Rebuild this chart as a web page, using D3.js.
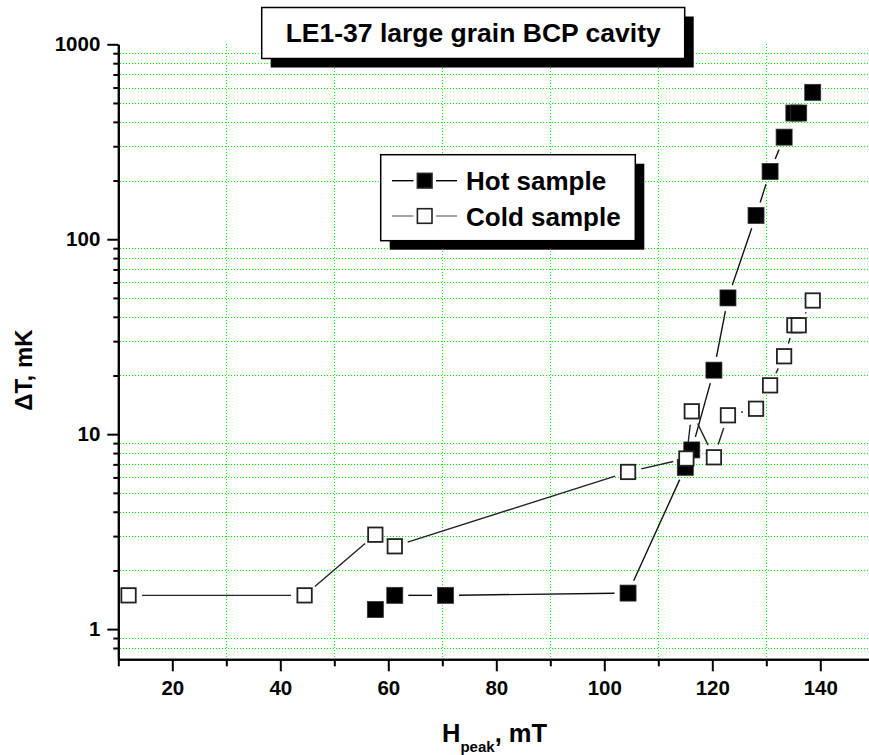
<!DOCTYPE html>
<html>
<head>
<meta charset="utf-8">
<script src="https://cdn.jsdelivr.net/npm/d3@7"></script>
<style>
  html, body { margin: 0; padding: 0; background: #fff; }
  svg { display: block; }
  text { font-family: "Liberation Sans", Arial, sans-serif; font-weight: bold; fill: #000; }
</style>
</head>
<body>
<script>
// ---- data ----
const titleText = "LE1-37 large grain BCP cavity";
const seriesNames = ["Hot sample", "Cold sample"];
const hotH  = [57.6, 61.2, 70.6, 104.4, 115.0, 116.2, 120.3, 122.9, 128.1, 130.7, 133.3, 135.1, 136.0, 138.6];
const hotDT = [1.26, 1.49, 1.49, 1.53, 6.76, 8.3, 21.3, 50.0, 132.5, 222.8, 334, 444, 444, 567];
const coldH  = [11.9, 44.5, 57.6, 61.2, 104.4, 115.2, 116.2, 120.3, 122.9, 128.1, 130.7, 133.3, 135.2, 136.0, 138.6];
const coldDT = [1.49, 1.49, 3.05, 2.66, 6.4, 7.5, 13.1, 7.61, 12.5, 13.5, 17.8, 25.1, 36.2, 36.2, 48.5];
const xMajorTicks = [20, 40, 60, 80, 100, 120, 140];
const xMinorTicks = [10, 30, 50, 70, 90, 110, 130, 150];
const yMajorTicks = [1, 10, 100, 1000];
const yMinorTicks = [0.8, 0.9, 2, 3, 4, 5, 6, 7, 8, 9, 20, 30, 40, 50, 60, 70, 80, 90, 200, 300, 400, 500, 600, 700, 800, 900];

(function () {
const W = 869, H = 755;
const svg = d3.select("body").append("svg").attr("width", W).attr("height", H);

const x = d3.scaleLinear().domain([10, 150]).range([118.3, 874.3]);
const y = d3.scaleLog().domain([0.7, 1000]).range([659.3, 44.3]);
const pLeft = x(10), pBottom = y(0.7), pTop = y(1000);

// ---- grid (minor positions, green dotted) ----
const grid = svg.append("g").attr("shape-rendering", "crispEdges");
grid.selectAll("line.h").data(yMinorTicks).join("line")
  .attr("x1", pLeft + 2).attr("x2", W).attr("y1", d => Math.round(y(d)) + 0.5).attr("y2", d => Math.round(y(d)) + 0.5)
  .attr("stroke", "#00ff00").attr("stroke-width", 1).attr("stroke-dasharray", "1,2");
grid.selectAll("line.v").data(xMinorTicks.filter(d => d > 10)).join("line")
  .attr("x1", d => Math.round(x(d)) + 0.5).attr("x2", d => Math.round(x(d)) + 0.5).attr("y1", pTop).attr("y2", pBottom - 1)
  .attr("stroke", "#00ff00").attr("stroke-width", 1).attr("stroke-dasharray", "1,2");

// ---- axes ----
svg.append("g").attr("transform", `translate(0,${pBottom})`)
  .call(d3.axisBottom(x).tickValues(xMajorTicks).tickSize(12).tickSizeOuter(0).tickPadding(9).tickFormat(d3.format("d")));
svg.append("g").attr("transform", `translate(0,${pBottom})`)
  .call(d3.axisBottom(x).tickValues(xMinorTicks).tickSize(7).tickSizeOuter(0).tickFormat(""));
svg.append("g").attr("transform", `translate(${pLeft},0)`)
  .call(d3.axisLeft(y).tickValues(yMajorTicks).tickSize(11).tickSizeOuter(0).tickPadding(7).tickFormat(d3.format("d")));
svg.append("g").attr("transform", `translate(${pLeft},0)`)
  .call(d3.axisLeft(y).tickValues(yMinorTicks).tickSize(5).tickSizeOuter(0).tickFormat(""));
svg.selectAll(".domain").attr("stroke", "#000").attr("stroke-width", 2);
svg.selectAll(".tick line").attr("stroke", "#000").attr("stroke-width", 2);
svg.selectAll(".tick text").style("font-size", "20.5px").style("font-family", "'Liberation Sans', Arial, sans-serif").style("font-weight", "bold").attr("fill", "#000");

// ---- axis titles ----
const xt = svg.append("text").attr("x", 442).attr("y", 741.5).style("font-size", "25.5px");
xt.append("tspan").text("H");
xt.append("tspan").attr("dy", 10).style("font-size", "15px").text("peak");
xt.append("tspan").attr("dy", -10).text(", mT");

svg.append("text").attr("transform", "translate(32,370) rotate(-90)").attr("text-anchor", "middle")
  .style("font-size", "24px").text("\u0394T, mK");

// ---- series ----
function pts(hx, hy) { return hx.map((v, i) => [x(v), y(hy[i])]); }
function drawLines(p, color) {
  const gap = 13.5;
  const segs = [];
  for (let i = 0; i < p.length - 1; i++) {
    const [x1, y1] = p[i], [x2, y2] = p[i + 1];
    const dx = x2 - x1, dy = y2 - y1, L = Math.hypot(dx, dy);
    if (L <= 2 * gap) continue;
    const ux = dx / L, uy = dy / L;
    segs.push([x1 + ux * gap, y1 + uy * gap, x2 - ux * gap, y2 - uy * gap]);
  }
  svg.append("g").selectAll("line").data(segs).join("line")
    .attr("x1", d => d[0]).attr("y1", d => d[1]).attr("x2", d => d[2]).attr("y2", d => d[3])
    .attr("stroke", color).attr("stroke-width", 1.4);
}
const hotP = pts(hotH, hotDT), coldP = pts(coldH, coldDT);
drawLines(hotP, "#111");
drawLines(coldP, "#222");

const S = 16;
svg.append("g").selectAll("rect").data(hotP).join("rect")
  .attr("x", d => d[0] - S / 2).attr("y", d => d[1] - S / 2).attr("width", S).attr("height", S)
  .attr("fill", "#000").attr("stroke", "#333").attr("stroke-width", 0.8);
svg.append("g").selectAll("rect").data(coldP).join("rect")
  .attr("x", d => d[0] - (S - 1.6) / 2).attr("y", d => d[1] - (S - 1.6) / 2).attr("width", S - 1.6).attr("height", S - 1.6)
  .attr("fill", "#fff").attr("stroke", "#222").attr("stroke-width", 1.8);

// ---- title box ----
const tb = { x: 261.7, y: 7.5, w: 423, h: 51 };
svg.append("rect").attr("x", tb.x + 9).attr("y", tb.y + 9).attr("width", tb.w).attr("height", tb.h).attr("fill", "#000");
svg.append("rect").attr("x", tb.x).attr("y", tb.y).attr("width", tb.w).attr("height", tb.h)
  .attr("fill", "#fff").attr("stroke", "#000").attr("stroke-width", 1.5);
svg.append("text").attr("x", tb.x + tb.w / 2).attr("y", 41.7).attr("text-anchor", "middle")
  .style("font-size", "26.5px").text(titleText);

// ---- legend ----
const lb = { x: 380.7, y: 154.7, w: 254.6, h: 86 };
svg.append("rect").attr("x", lb.x + 9).attr("y", lb.y + 9).attr("width", lb.w).attr("height", lb.h).attr("fill", "#000");
svg.append("rect").attr("x", lb.x).attr("y", lb.y).attr("width", lb.w).attr("height", lb.h)
  .attr("fill", "#fff").attr("stroke", "#000").attr("stroke-width", 1.5);
const legRows = [
  { name: seriesNames[0], cy: 180.7, fill: "#000", line: "#000" },
  { name: seriesNames[1], cy: 216, fill: "#fff", line: "#808080" }
];
const lg = svg.append("g").selectAll("g").data(legRows).join("g");
lg.append("line").attr("x1", 392).attr("x2", 413.5).attr("y1", d => d.cy).attr("y2", d => d.cy).attr("stroke", d => d.line).attr("stroke-width", 1.4);
lg.append("line").attr("x1", 436).attr("x2", 457).attr("y1", d => d.cy).attr("y2", d => d.cy).attr("stroke", d => d.line).attr("stroke-width", 1.4);
lg.append("rect").attr("x", 424.7 - 7.3).attr("y", d => d.cy - 7.3).attr("width", 14.6).attr("height", 14.6)
  .attr("fill", d => d.fill).attr("stroke", "#222").attr("stroke-width", 1.6);
lg.append("text").attr("x", 466).attr("y", d => d.cy + 9.5).style("font-size", "26px").text(d => d.name);
})();
</script>
</body>
</html>
